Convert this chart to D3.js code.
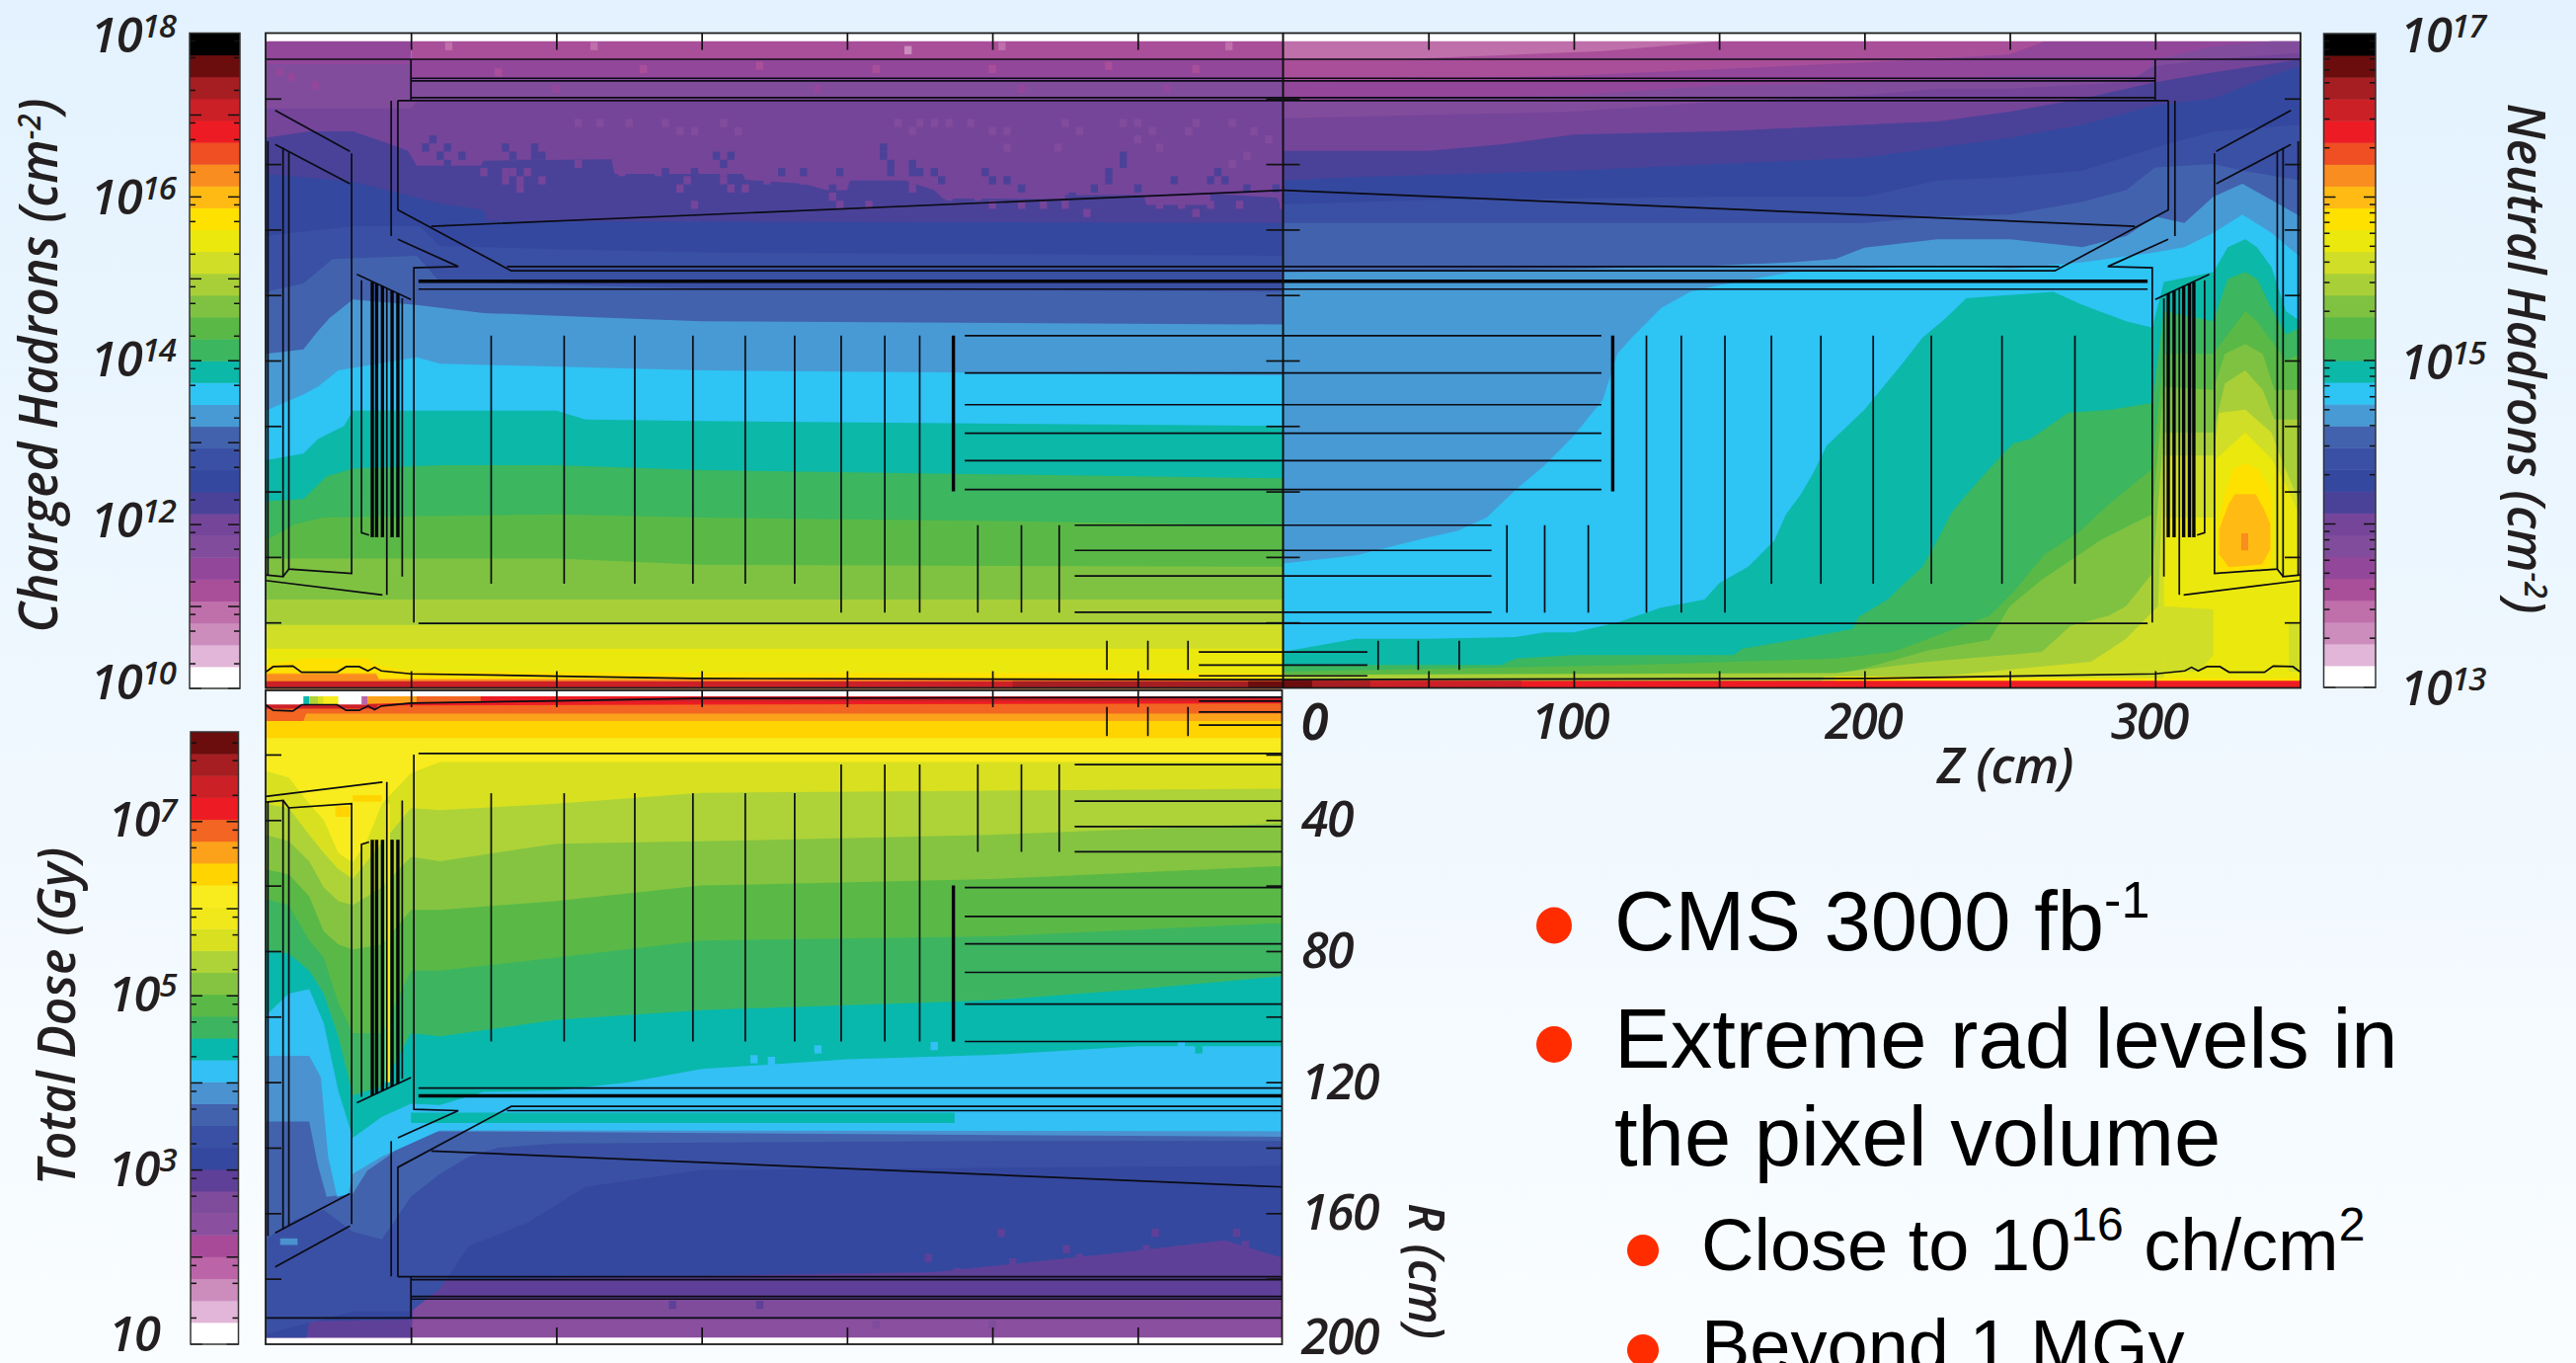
<!DOCTYPE html>
<html><head><meta charset="utf-8">
<script src="https://cdn.jsdelivr.net/npm/d3@7"></script>
<style>
html,body{margin:0;padding:0;overflow:hidden;background:#f0f8ff}
svg{display:block}
.lab{font-family:"Open Sans",sans-serif;font-style:italic;font-weight:600;fill:#231f20}
.bul{font-family:"Liberation Sans",Arial,sans-serif;fill:#000}
</style></head><body><svg id="c" width="2609" height="1380"></svg>
<script>
// ---------- colour scales, bottom band to top band ----------
const hadronColors=["#ffffff","#e1b6d8","#cc8dbd","#bf6faa","#a94f9a","#93479a","#824c9c","#75459a","#4a4298","#34489f","#3a50a4","#4262ad","#489ad4","#2ec4f4","#0cb8a8","#3cb65f","#5ab946","#7fc241","#a9cf38","#d0de27","#ebe80d","#ffe100","#ffbb13","#f98d1f","#f04e23","#ed1c24","#cc2027","#a61e22","#6b0d0d","#000000"];
const doseColors=["#ffffff","#e1b6d8","#cc8dbd","#bb65a8","#a84a98","#8a4f9e","#7f4c9c","#5f4098","#34489f","#3a50a4","#4262ad","#4a92d0","#33c0f4","#08b8ac","#3db560","#5ab946","#85c441","#add338","#d8e020","#f0e81a","#f8ec1e","#ffd400","#fba21a","#f26522","#ed1c24","#cc2027","#a61e22","#6b0d0d"];
// ---------- contour edges: [level, [[z cm, R cm], ...]]  (region from R=0 up to the edge has at least this level) ----------
const chargedEdges=[
[4,[[-300,0],[-300,197.5],[0,197.5]]],
[5,[[-350,197.5],[-300,197.5],[-300,192],[0,192]]],
[6,[[-350,190.5],[-300,190.5],[-300,186.5],[0,186.5]]],
[7,[[-350,177],[-300,177],[-298,179],[0,179]]],
[8,[[-350,168],[-335,170],[-320,170],[-310,167],[-301,164],[-298,159.5],[-276,159.5],[-275,161],[-231,161.5],[-230,157],[-186,157],[-185,155.2],[-165,154],[-157,152],[-150,152],[-149,155],[-130,155],[-120,152],[-117,149.5],[-75,149.3],[-75,150.5],[-48,150.5],[-47,147.5],[-25,147.5],[-25,151],[-2,149.7],[0,145]]],
[9,[[-350,157],[-320,154.6],[-290,148],[-275,146],[-274,142.6],[0,142]]],
[10,[[-350,138],[-320,141],[-297,141],[-290,135],[-250,134],[-200,133],[0,132]]],
[11,[[-350,121],[-337,123.5],[-327,131],[-298,132],[-290,124],[-200,122],[0,121]]],
[12,[[-350,102],[-337,103.4],[-332,109],[-328,113],[-320,118.6],[-298,117],[-275,114.5],[-230,113],[-200,112],[0,111]]],
[13,[[-350,84.7],[-337,89.6],[-332,92],[-325,97],[-298,101],[-290,99],[-200,97],[0,95.5]]],
[14,[[-350,69.5],[-337,71.6],[-332,76],[-323,80],[-320,84.7],[-250,84.7],[-240,82],[-200,81.5],[0,80]]],
[15,[[-350,57],[-337,57.7],[-332,62],[-329,64.6],[-320,67],[-290,68],[-250,68],[-200,66.5],[0,64]]],
[16,[[-350,45],[-340,50],[-330,52],[-250,53],[-200,52],[-100,51],[0,49.5]]],
[17,[[-350,39.5],[-250,39.5],[-200,37.6],[0,37]]],
[18,[[-350,27],[0,27]]],
[19,[[-350,19.2],[0,19.2]]],
[20,[[-350,12],[0,12]]],
[21,[[-350,7],[-335,9],[-315,9],[-312,7],[-300,5],[-200,4.6],[0,4.4]]],
[22,[[-350,4.5],[-312,4.5],[-311,2.9],[0,2.9]]],
[23,[[-350,4.2],[-312,4.2],[-311,2.6],[0,2.6]]],
[26,[[-350,2],[0,2]]],
[27,[[-350,0],[-93,0],[-93,2],[0,2]]],
[28,[[-350,0],[-12,0],[-12,2],[0,2]]]
];
// scattered Monte-Carlo cells: [column, row] on the 2.5 cm grid of the upper barrel
const chargedCellsLevel8=[[2,2],[1,3],[4,3],[3,4],[6,4],[4,5],[12,3],[13,4],[14,5],[16,3],[16,4],[17,4],[15,5],[41,4],[43,4],[42,5],[34,6],[38,6],[50,6],[53,6],[58,6],[57,8],[64,3],[64,4],[65,5],[65,6],[68,5],[68,6],[69,6],[71,6],[72,7],[78,6],[79,7],[81,7],[83,8],[97,4],[97,5],[95,6],[95,7],[93,8],[104,7],[110,6],[109,7],[111,7],[118,8],[99,8],[114,8],[90,9]];
const chargedCellsLevel7=[[1,4],[9,6],[12,6],[13,6],[12,7],[14,7],[14,8],[15,6],[17,7],[22,5],[28,6],[33,6],[42,6],[42,7],[43,8],[36,8],[37,7],[45,8],[48,7],[53,7],[38,10],[57,9],[58,10],[62,10],[68,7],[68,8],[71,7],[72,8],[73,9],[77,9],[79,10],[83,10],[86,10],[89,10],[92,11],[102,10],[105,10],[107,11],[109,10],[113,10],[119,10]];
const chargedCellsLevel6=[[22,0],[25,0],[29,0],[34,0],[36,1],[38,1],[42,0],[44,1],[66,0],[68,1],[69,0],[71,0],[73,0],[76,0],[79,1],[81,1],[81,3],[88,3],[89,0],[91,1],[97,0],[99,0],[101,1],[99,2],[102,3],[106,1],[107,0],[112,0],[115,1],[117,2],[114,4],[112,5]];
const chargedSpeckle=[[-325,181,6],[-341,186.5,5],[-345,188,5],[-333,184,5],[-287,196,3],[-237,196,3],[-129,194.8,2],[-96.7,196,3],[-18.6,196,3],[-270,188,4],[-220,189,4],[-180,190,4],[-140,189,4],[-100,189,4],[-60,190,4],[-30,189,4],[-250,183,5],[-160,183,5],[-90,183,5],[-40,183,5]];
const neutralEdges=[
[3,[[0,197.5],[150,197.5],[150,0]]],
[4,[[0,192],[40,192],[110,194.5],[150,197.5],[262,197.5],[262,0]]],
[5,[[0,185],[50,186],[100,187],[150,189],[200,191],[250,193.5],[262,197.5],[350,197.5]]],
[6,[[0,179.5],[50,180],[100,181],[150,184],[200,185],[250,187],[295,187],[300,192],[320,196],[340,197.5],[350,197.5]]],
[7,[[0,174],[100,176],[150,179],[200,181],[225,183],[250,183],[290,185],[300,190],[320,192],[350,194]]],
[8,[[0,164],[50,164],[75,166],[100,169],[150,170],[200,172],[225,173],[250,176],[275,180],[300,185],[320,188],[350,192]]],
[9,[[0,155],[25,156],[100,158],[150,160],[200,162],[225,165],[250,168],[275,172],[300,178],[320,180],[340,187],[350,190]]],
[10,[[0,147.7],[50,149],[150,150],[200,150],[225,155],[250,156],[275,158],[300,165],[320,170],[350,172]]],
[11,[[0,142],[200,142],[225,144],[250,144.6],[275,148.5],[290,152],[300,159],[320,160],[330,158],[350,155]]],
[12,[[0,127],[100,128],[150,129],[175,130],[190,131],[200,134.5],[225,137],[250,137],[275,134.6],[290,138],[300,144],[310,142],[320,150],[330,154],[340,149],[350,144]]],
[13,[[0,38],[25,40.5],[50,46],[60,48],[70,52],[80,60.5],[90,68],[100,77],[110,88],[115,102],[120,107],[130,116],[140,121],[150,123],[175,127],[200,128],[225,129],[250,128],[275,130],[300,133],[310,134.6],[320,139],[330,144.6],[340,139],[350,131.5]]],
[14,[[0,11],[25,15],[50,15],[80,15.5],[90,17],[100,17],[115,20],[130,24.5],[145,27],[150,32],[160,37],[169,45],[173,53],[178,59],[182,65],[187,74],[193,79],[200,85],[213,99],[220,107],[228,113],[235,119],[265,121],[275,117],[290,112],[299,110],[303,124],[320,127],[325,134.6],[331,137],[335,134.6],[340,128.5],[345,115],[350,112]]],
[15,[[0,7],[75,7],[80,9],[100,10],[155,10],[158,12],[178,15],[196,18],[198,21.7],[208,27],[213,31.4],[220,37],[225,45],[230,53.6],[235,59],[243,67],[251,74.6],[257,76],[270,84],[285,85],[299,87],[303,115],[320,112],[325,125],[331,127],[335,125],[340,116],[345,108],[350,110]]],
[16,[[0,5],[120,7],[190,9],[210,11],[222,15],[243,22],[251,29],[262,40.8],[274,47.7],[284,56],[299,67],[303,102],[320,102],[325,108],[331,115],[335,112],[340,106],[345,100],[350,102]]],
[17,[[0,4],[190,4],[200,6],[222,11.5],[243,14.6],[250,25],[261,33],[271,39],[281,45],[292,50],[299,53],[303,92],[320,91],[324,102],[331,105],[337,102],[341,91],[350,91]]],
[18,[[0,4],[190,4.5],[222,8],[261,11],[271,19],[284,22],[290,25],[299,35],[303,78],[320,78],[324,93],[331,97],[337,91],[341,82],[350,82]]],
[19,[[0,0],[185,0],[186,3.5],[225,3.5],[278,8],[290,15],[301,25],[303,71],[320,71],[322,84],[331,85],[340,78],[344,68.5],[350,56]]],
[20,[[303,0],[303,52],[320,52],[321,70],[331,78],[340,70],[345,62],[350,52]]],
[21,[[190,0],[190,3.5],[225,3.5],[230,3],[350,3]]],
[25,[[0,2.2],[350,2.2]]],
[26,[[0,2.2],[82,2.2],[82,0]]],
[27,[[0,2.2],[30,2.2],[30,0]]],
[28,[[0,2.2],[10,2.2],[10,0]]]
];
const neutralIslands=[
[19,[[303,5],[303,25],[320,24],[320,10],[315,5]]],
[19,[[346,5],[346,20],[350,20],[350,5]]],
[21,[[323.9,59.2],[326.7,66.9],[331,68.5],[335.3,66.9],[339.6,60.8],[340.3,50],[339.6,36.9],[322,35.4],[321.7,50]]],
[22,[[325.3,56.2],[327.4,59.2],[334.6,59.2],[337.4,54.6],[339.6,50],[339.6,42.3],[336.7,37.7],[325.3,36.9],[322,40.8],[322,48.5]]],
[23,[[329.6,47.2],[332,47.2],[332,42],[329.6,42]]]
];
const doseEdges=[
[5,[[-350,198],[0,198]]],
[6,[[-350,198],[-300,198],[-299,192],[0,192]]],
[7,[[-350,198],[-300,198],[-299,186],[0,186]]],
[8,[[-350,198],[-336,198],[-335,193],[-300,192.5],[-299,180.5],[-120,178],[-60,172.4],[-20,168.3],[0,173.7]]],
[9,[[-350,197],[-320,190],[-300,190],[-290,183],[-280,170],[-260,163],[-240,152],[-200,146.8],[0,145.5]]],
[10,[[-350,168],[-340,162],[-330,159],[-320,165.6],[-310,168],[-305,161.6],[-300,154.9],[-290,148],[-280,142.7],[-270,140],[-250,138.7],[-100,138],[0,138]]],
[11,[[-350,132],[-335,132],[-332,145.4],[-329,155],[-320,154],[-315,147],[-308,142.7],[-298,135],[-290,135],[0,136.7]]],
[12,[[-350,112],[-335,112],[-331,118.5],[-328.5,142.7],[-325.4,155],[-321.6,154.2],[-320,148],[-310,142.7],[-300,138.7],[-290,134.7],[0,135]]],
[13,[[-350,99.7],[-342,93],[-335,91.6],[-330,102],[-325,122.6],[-320,137],[-310,130.6],[-300,126.6],[-290,127],[-275,123],[-250,122.5],[-225,120],[-200,116],[-150,113],[-100,111.7],[-50,109],[0,109]]],
[14,[[-350,79.5],[-342,80.8],[-335,86],[-330,93],[-325,106],[-320,124],[-310,121.2],[-300,105],[-290,106],[-250,101],[-200,98],[-100,95],[-50,91.6],[0,87.6]]],
[15,[[-350,64],[-342,66],[-335,76.8],[-330,82],[-325,95.6],[-320,105],[-310,105],[-300,86],[-290,86],[-250,82],[-200,76.8],[-100,75.5],[0,71.4]]],
[16,[[-350,55],[-342,56.6],[-335,63.3],[-330,74],[-325,78],[-320,79.5],[-310,78],[-300,67.4],[-290,67.4],[-250,64.7],[-200,60],[-100,58],[0,54]]],
[17,[[-350,44.5],[-342,46.5],[-335,52.6],[-330,60.6],[-325,64.7],[-320,66],[-310,60.6],[-300,51.2],[-290,52.6],[-250,47.2],[-200,46.5],[-100,44.5],[0,41]]],
[18,[[-350,35],[-342,36.4],[-335,44.5],[-330,50],[-325,55],[-320,58],[-310,47],[-300,36.4],[-290,37],[-250,35],[-200,31.7],[0,30.4]]],
[20,[[-350,25],[-342,27],[-335,35],[-330,40],[-325,50],[-320,53],[-315,46],[-310,35],[-300,25.7],[-290,22.3],[0,22.3]]],
[21,[[-350,15],[0,15]]],
[22,[[-350,9.8],[0,9.8]]],
[23,[[-350,9.8],[-337,9.8],[-336,7.5],[0,7.5]]],
[24,[[-350,6],[-311,5],[0,4.4]]],
[25,[[-350,6],[-312,6],[-311,4],[0,3.6]]]
];
const doseIslands=[
[13,[[-300,129.3],[-113,129.3],[-113,132.5],[-300,132.5]]],
[11,[[-345,167.7],[-339,167.7],[-339,169.7],[-345,169.7]]],
[21,[[-326,35.8],[-321,35.8],[-321,39],[-326,39]]],
[21,[[-320,32.4],[-310,32.4],[-310,34.4],[-320,34.4]]],
[20,[[-308.8,35],[-307.2,35],[-307.2,120],[-308.8,120]]],
[0,[[-350,0],[0,0],[0,2.2],[-315,2.2],[-315,4.7],[-350,4.7]]],
[13,[[-337,2.2],[-335,2.2],[-335,4.7],[-337,4.7]]],
[17,[[-335,2.2],[-332,2.2],[-332,4.7],[-335,4.7]]],
[18,[[-332,2.2],[-330,2.2],[-330,4.7],[-332,4.7]]],
[20,[[-330,2.2],[-325,2.2],[-325,4.7],[-330,4.7]]],
[3,[[-317,2.2],[-315,2.2],[-315,4.7],[-317,4.7]]],
[22,[[-315,2.2],[-298,2.2],[-298,4.2],[-315,4.6]]],
[23,[[-298,2.2],[-276,2.2],[-276,3.9],[-298,4.2]]],
[24,[[-276,2.2],[-200,2.2],[-200,3],[-276,3.9]]]
];
const doseSpeckle=[[-122,173.7,7],[-97,166,7],[-74.5,171,7],[-70,173.7,7],[-47,171,7],[-44,166,7],[-16,166,7],[-13,169.7,7],[-22.5,173.7,7],[-39,173.7,7],[-93,175,7],[-112,178,7],[-86,176.4,7],[-61.5,176.4,7],[-176,113.5,12],[-182,113,12],[-160,110,12],[-120,109,12],[-35,109,12],[-29,110,13],[-255,109,13],[-196,93,14],[-180,92,14],[-210,188,7],[-180,188,7],[-140,194,6],[-100,194,6],[-60,195,5],[-30,189,6]];
// ---------- detector outline, polylines in [|z| cm, R cm] ----------
const detectorLines=[
[[350,192],[0,192]],[[300,186.2],[0,186.2]],[[300,185.4],[0,185.4]],[[300,180.3],[0,180.3]],[[300,192],[300,179.5]],
[[304.5,179.4],[0,179.4]],[[304.5,179.4],[304.5,146],[265.5,127.4],[0,127.4]],[[267,128.7],[0,128.7]],[[293,141],[0,152]],
[[306.8,179.3],[306.8,138]],[[304.5,137],[283.7,128.7],[299,128.3],[299,20]],[[297.4,121.8],[0,121.8]],[[297.4,19.7],[0,19.7]],
[[346.7,176.4],[321,163.9]],[[346.7,166],[321,154]],[[320.4,163.3],[320.4,35],[342,36.3],[342,163.6]],[[344,165],[344,34],[350,34.5]],[[344,34],[342,36.3]],
[[349.2,167],[349.2,34.5]],[[350,32.8],[309.8,28.4]],[[308.3,122],[308.3,28.4]],[[303,119],[303,34]],[[318.6,126.3],[300,118.6]],[[317,124.5],[317,47.4],[314.4,46.7]],
[[272.4,107.6],[272.4,31.8]],[[247.3,107.6],[247.3,31.8]],[[223,107.6],[223,31.8]],[[203,107.6],[203,31.8]],[[185,107.6],[185,31.8]],[[168,107.6],[168,31.8]],
[[152,107.6],[152,23]],[[137,107.6],[137,23]],[[125,107.6],[125,23]],
[[105,49.7],[105,23]],[[90,49.7],[90,23]],[[77,49.7],[77,23]],
[[109.5,107.6],[0,107.6]],[[109.5,96.2],[0,96.2]],[[109.5,86.5],[0,86.5]],[[109.5,77.8],[0,77.8]],[[109.5,69.4],[0,69.4]],[[109.5,60.6],[0,60.6]],
[[71.7,49.7],[0,49.7]],[[71.7,42],[0,42]],[[71.7,34.2],[0,34.2]],[[71.7,23.1],[0,23.1]],
[[60.6,14.4],[60.6,5.5]],[[46.5,14.4],[46.5,5.5]],[[32.7,14.4],[32.7,5.5]],[[29,11],[0,11]],[[29,7],[0,7]],[[29,3.7],[0,3.7]],
[[350,4.8],[347.4,6.5],[340.6,6.7],[337.6,4.8],[325.4,4.8],[322.3,6.5],[317.8,6.5],[314.8,5.2],[312.5,6.3],[310.2,5.2],[300,4.3],[250,3.6],[203,2.9],[0,2.5]]
];
const heavyLines=[
[[297.4,124.2],[0,124.2]],[[113.4,107.6],[113.4,60]],
[[313.3,124],[313.3,46]],[[311.8,123.5],[311.8,46]],[[309.8,122.7],[309.8,46]],[[306.5,121.3],[306.5,46]],[[304.5,120.5],[304.5,46]]
];
// ---------- axes and colour-bar ticks ----------
const rTicks=[20,40,60,80,100,120,140,160,180];
const zTicks=[-300,-250,-200,-150,-100,-50,50,100,150,200,250,300];
const zLabels=[0,100,200,300];
const rLabels=[0,40,80,120,160,200];
const chargedDecades=[10,11,12,13,14,15,16,17];
const neutralDecades=[13,14,15,16];
const doseDecades=[1,2,3,4,5,6,7];
const chargedLabels=[18,16,14,12,10];
const neutralLabels=[17,15,13];
const doseLabels=[7,5,3];
const bulletsBig=["CMS 3000 fb","Extreme rad levels in","the pixel volume"];

const svg=d3.select("#c");
const defs=svg.append("defs");
const grad=defs.append("linearGradient").attr("id","bg").attr("x1",0).attr("x2",0).attr("y1",0).attr("y2",1);
grad.append("stop").attr("offset",0).attr("stop-color","#e3f2fe");
grad.append("stop").attr("offset",1).attr("stop-color","#fafdff");
svg.append("rect").attr("width",2609).attr("height",1380).attr("fill","url(#bg)");

const x=d3.scaleLinear().domain([-350,350]).range([269,2330]);
const yTop=d3.scaleLinear().domain([0,200]).range([696.5,33.5]);
const yDose=d3.scaleLinear().domain([0,200]).range([697.6,1361]);

const cellsToSpeckle=(cells,level)=>cells.map(c=>[-298.7+(c[0]+.5)*2.5,173.8-(c[1]+.5)*2.5,level]);
const chargedAll=chargedSpeckle.concat(cellsToSpeckle(chargedCellsLevel6,6),cellsToSpeckle(chargedCellsLevel7,7),cellsToSpeckle(chargedCellsLevel8,8));

function heat(id,clipX0,clipX1,y,edges,colors,islands,speckle){
  const y0=Math.min(y(0),y(200)),y1=Math.max(y(0),y(200));
  defs.append("clipPath").attr("id",id).append("rect").attr("x",x(clipX0)).attr("width",x(clipX1)-x(clipX0)).attr("y",y0).attr("height",y1-y0);
  const g=svg.append("g").attr("clip-path",`url(#${id})`);
  g.append("rect").attr("x",x(clipX0)).attr("width",x(clipX1)-x(clipX0)).attr("y",y0).attr("height",y1-y0).attr("fill","#fff");
  const area=d3.area().x(d=>x(d[0])).y0(y(0)).y1(d=>y(d[1]));
  const line=d3.line().x(d=>x(d[0])).y(d=>y(d[1]));
  g.selectAll(".e").data(edges).join("path").attr("d",d=>area(d[1])).attr("fill",d=>colors[d[0]]);
  g.selectAll(".s").data(speckle).join("rect")
   .attr("x",d=>x(d[0]-1.25)).attr("width",x(2.5)-x(0))
   .attr("y",d=>Math.min(y(d[1]-1.25),y(d[1]+1.25))).attr("height",Math.abs(y(2.5)-y(0)))
   .attr("fill",d=>colors[d[2]]);
  g.selectAll(".i").data(islands).join("path").attr("d",d=>line(d[1])+"Z").attr("fill",d=>colors[d[0]]);
  return g;
}
function detector(g,sign,y){
  const line=d3.line().x(d=>x(sign*d[0])).y(d=>y(d[1]));
  g.selectAll(".l").data(detectorLines).join("path").attr("d",line).attr("fill","none").attr("stroke","#0b0b14").attr("stroke-width",1.7);
  g.selectAll(".h").data(heavyLines).join("path").attr("d",line).attr("fill","none").attr("stroke","#05050a").attr("stroke-width",3.4);
}
const gC=heat("cC",-350,0,yTop,chargedEdges,hadronColors,[],chargedAll);
const gN=heat("cN",0,350,yTop,neutralEdges,hadronColors,neutralIslands,[]);
const gD=heat("cD",-350,-0.5,yDose,doseEdges,doseColors,doseIslands,doseSpeckle);
detector(gC,-1,yTop);detector(gN,1,yTop);detector(gD,-1,yDose);

function frame(x0,x1,y0,y1){svg.append("rect").attr("x",x0).attr("y",y0).attr("width",x1-x0).attr("height",y1-y0).attr("fill","none").attr("stroke","#1c1c1c").attr("stroke-width",1.8);}
frame(269,2330,33.5,696.5);frame(269,1298.5,699,1361);
svg.append("line").attr("x1",x(0)).attr("x2",x(0)).attr("y1",33.5).attr("y2",696.5).attr("stroke","#111").attr("stroke-width",2);

function ticks(axis,tx,ty,vals,size){
  const g=svg.append("g").attr("transform",`translate(${tx},${ty})`).call(axis.tickValues(vals).tickSize(size).tickFormat(""));
  g.select(".domain").remove();g.selectAll("line").attr("stroke","#111").attr("stroke-width",1.7);
}
ticks(d3.axisTop(x),0,33.5,zTicks,-17);ticks(d3.axisBottom(x),0,696.5,zTicks,-17);
const zTicksDose=zTicks.filter(d=>d<0);
ticks(d3.axisTop(x),0,699,zTicksDose,-17);ticks(d3.axisBottom(x),0,1361,zTicksDose,-17);
ticks(d3.axisLeft(yTop),269,0,rTicks,-16);ticks(d3.axisRight(yTop),2330,0,rTicks,-16);
ticks(d3.axisLeft(yTop),x(0),0,rTicks,17);ticks(d3.axisRight(yTop),x(0),0,rTicks,17);
ticks(d3.axisLeft(yDose),269,0,rTicks,-16);ticks(d3.axisRight(yDose),1298.5,0,rTicks,-16);

function bar(x0,x1,yA,yB,colors,logDomain,decades,mult){
  const band=d3.scaleBand().domain(d3.range(colors.length)).range([yA,yB]);
  svg.append("g").selectAll("rect").data(colors).join("rect").attr("x",x0).attr("width",x1-x0)
    .attr("y",(d,i)=>band(i)).attr("height",band.bandwidth()+0.5).attr("fill",d=>d);
  const ys=d3.scaleLog().domain(logDomain).range([yA,yB]);
  const tv=[];decades.forEach(e=>mult.forEach(m=>tv.push({v:m*Math.pow(10,e),major:m===1})));
  const tk=svg.append("g");
  [[x0,1],[x1,-1]].forEach(([bx,s])=>{
    tk.append("g").selectAll("line").data(tv).join("line").attr("x1",bx).attr("x2",d=>bx+s*(d.major?12:6))
     .attr("y1",d=>ys(d.v)).attr("y2",d=>ys(d.v)).attr("stroke","#111").attr("stroke-width",1.5);
  });
  svg.append("rect").attr("x",x0).attr("y",yB).attr("width",x1-x0).attr("height",yA-yB).attr("fill","none").attr("stroke","#333").attr("stroke-width",1.5);
}
bar(192,243,697,33.5,hadronColors,[1e10,1e18],chargedDecades,[1,2,5,8]);
bar(2353.5,2406,696,34,hadronColors,[1e13,1e17],neutralDecades,[1,2,3,4,5,6,7,8,9]);
bar(193,241.5,1361,741,doseColors,[10,Math.pow(10,8.03)],doseDecades,[1,2,5,8]);

const FS=49,SUP=33;
function power(tx,ty,e,anchor){
  const t=svg.append("text").attr("class","lab").attr("x",tx).attr("y",ty).attr("text-anchor",anchor).attr("font-size",FS).attr("letter-spacing",-1);
  t.append("tspan").text("10");
  t.append("tspan").attr("dy",-15).attr("font-size",SUP).text(e);
}
const logC=d3.scaleLinear().domain([10,18]).range([708,53]);
chargedLabels.forEach(e=>power(178,logC(e),e,"end"));
const logN=d3.scaleLinear().domain([13,17]).range([714,53]);
neutralLabels.forEach(e=>power(2431,logN(e),e,"start"));
const logD=d3.scaleLinear().domain([3,7]).range([1201,847]);
doseLabels.forEach(e=>power(178.6,logD(e),e,"end"));
svg.append("text").attr("class","lab").attr("x",110).attr("y",1368).attr("font-size",FS).attr("letter-spacing",-1).text("10");

function rotTitle(tx,ty,rot,parts,len,fs){
  const t=svg.append("text").attr("class","lab").attr("transform",`translate(${tx},${ty}) rotate(${rot})`).attr("text-anchor","middle").attr("font-size",fs).attr("textLength",len).attr("lengthAdjust","spacingAndGlyphs");
  parts.forEach(p=>{const s=t.append("tspan").text(p[0]);if(p[1]!=null)s.attr("dy",p[1]);if(p[2])s.attr("font-size",p[2]);});
}
rotTitle(58,370,-90,[["Charged Hadrons (cm"],["-2",-17,32],[")",17]],541,54);
rotTitle(2540,363,90,[["Neutral Hadrons (cm"],["-2",-17,32],[")",17]],517,52);
rotTitle(76,1029,-90,[["Total Dose (Gy)"]],342,52);
rotTitle(1427,1287,90,[["R (cm)"]],138,50);

const zOff={0:31,100:-4,200:-1,300:-6};
zLabels.forEach(v=>svg.append("text").attr("class","lab").attr("x",x(v)+zOff[v]).attr("y",748).attr("text-anchor","middle").attr("font-size",50).attr("letter-spacing",-1.5).text(v));
svg.append("text").attr("class","lab").attr("x",1962).attr("y",793).attr("font-size",51).attr("letter-spacing",-.6).text("Z (cm)");
rLabels.forEach(v=>svg.append("text").attr("class","lab").attr("x",1318).attr("y",yDose(v)+(v===0?51:17)-(v===200?7:0)).attr("font-size",50).attr("letter-spacing",-1.5).text(v));

const bul=svg.append("g");
const bigRed=[[1574,937],[1574,1057.5]],smallRed=[[1664,1266],[1664,1367]];
bul.selectAll(".b").data(bigRed).join("ellipse").attr("cx",d=>d[0]).attr("cy",d=>d[1]).attr("rx",18).attr("ry",18.5).attr("fill","#ff2c00");
bul.selectAll(".s").data(smallRed).join("ellipse").attr("cx",d=>d[0]).attr("cy",d=>d[1]).attr("rx",16).attr("ry",16).attr("fill","#ff2c00");
function t(xp,yp,size,parts){
  const e=bul.append("text").attr("class","bul").attr("x",xp).attr("y",yp).attr("font-size",size);
  parts.forEach(p=>{const s=e.append("tspan").text(p[0]);if(p[1]!=null){s.attr("dy",p[1]).attr("font-size",p[2]);}});
}
t(1635,962,85,[[bulletsBig[0]],["-1",-33,52]]);
t(1635,1081,85,[[bulletsBig[1]]]);
t(1635,1180,85,[[bulletsBig[2]]]);
t(1723,1286,74,[["Close to 10"],["16",-30,48],[" ch/cm",30,74],["2",-30,48]]);
t(1723,1388,74,[["Beyond 1 MGy"]]);
</script></body></html>
